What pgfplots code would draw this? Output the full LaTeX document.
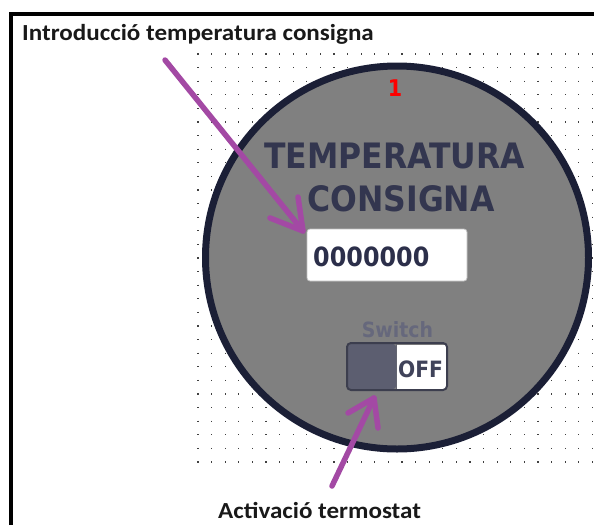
\documentclass[border=0pt]{standalone}
\usepackage{pgfplots}
\pgfplotsset{compat=1.18}
\usepackage{fontspec}
\setmainfont{Liberation Sans}
\newfontfamily\dvs[FakeStretch=0.9]{DejaVu Sans}
\newfontfamily\carl[FakeStretch=1.09]{Carlito}
\definecolor{circfill}{HTML}{808080}
\definecolor{circedge}{HTML}{1B1F36}
\definecolor{titlecol}{HTML}{33364F}
\definecolor{digitcol}{HTML}{2C2F4A}
\definecolor{swlabel}{HTML}{66687C}
\definecolor{swleft}{HTML}{5C5E70}
\definecolor{swedge}{HTML}{3C3E4E}
\definecolor{offcol}{HTML}{40435A}
\definecolor{arrowcol}{HTML}{A349A4}
\begin{document}
\begin{tikzpicture}
\path[use as bounding box] (0,0) rectangle (594pt,525pt);
% dotted background grid
\begin{axis}[
  x=1pt, y=1pt, scale only axis,
  at={(0pt,56.2pt)}, anchor=south west,
  xmin=0, xmax=594, ymin=47.2, ymax=468.8, y dir=reverse,
  axis line style={draw=none},
  xtick={198,211.6,...,593}, xticklabels={}, ytick=\empty,
  major tick length=0pt,
  xmajorgrids,
  major grid style={line width=1.2pt, black!75, dash pattern=on 1.2pt off 12.4pt, dash phase=7.4pt},
]
\addplot[draw=none] coordinates {(0,100)};
\end{axis}
% main content
\begin{axis}[
  x=1pt, y=1pt, scale only axis,
  at={(0pt,0pt)}, anchor=south west,
  xmin=0, xmax=594, ymin=0, ymax=525, y dir=reverse,
  hide axis, clip=false,
]
% frame
\addplot[black, line width=4pt, line join=miter] coordinates {(11,525) (11,13.5) (594,13.5)};
% circle
\draw[fill=circfill, draw=circedge, line width=7pt] (axis cs:397,257.5) circle[radius=191.5];
% red number
\node[anchor=base, text=red, font=\dvs\bfseries\fontsize{23}{26}\selectfont] at (axis cs:395,96) {1};
% title
\node[anchor=base, text=titlecol, font=\dvs\bfseries\fontsize{35}{40}\selectfont] at (axis cs:394.5,168) {TEMPERATURA};
\node[anchor=base, text=titlecol, font=\dvs\bfseries\fontsize{35}{40}\selectfont] at (axis cs:401,211.5) {CONSIGNA};
% input box
\draw[fill=white, draw=black!25, line width=0.8pt, rounded corners=3pt] (axis cs:307,229) rectangle (axis cs:467,281);
\node[anchor=base west, text=digitcol, inner sep=0pt, font=\dvs\bfseries\fontsize{26.5}{30}\selectfont] at (axis cs:313,266.5) {0000000};
% switch
\node[anchor=base, text=swlabel, font=\dvs\bfseries\fontsize{21}{24}\selectfont] at (axis cs:397.5,337.5) {Switch};
\fill[white] (axis cs:396,345) rectangle (axis cs:446,389);
\fill[swleft, rounded corners=3pt] (axis cs:348,344) rectangle (axis cs:396,389);
\draw[swedge, line width=2pt, rounded corners=4pt] (axis cs:347,343) rectangle (axis cs:447,390);
\draw[swedge!80, line width=1pt] (axis cs:396,344) -- (axis cs:396,389);
\node[anchor=base west, text=offcol, inner sep=0pt, font=\dvs\bfseries\fontsize{22.5}{24}\selectfont] at (axis cs:398,377) {OFF};
% arrows
\addplot[arrowcol, line width=5.5pt, line cap=round, line join=round] coordinates {(165,60) (303,231)};
\addplot[arrowcol, line width=5.5pt, line cap=round, line join=round] coordinates {(298,197) (303,231) (270,218)};
\addplot[arrowcol, line width=5.5pt, line cap=round, line join=round] coordinates {(332,486) (374,398)};
\addplot[arrowcol, line width=5.5pt, line cap=round, line join=round] coordinates {(348,413) (374,398) (378,428)};
% labels
\node[anchor=base west, inner sep=0pt, text=black!90, font=\carl\bfseries\fontsize{23}{25}\selectfont] at (axis cs:22,40.5) {Introducció temperatura consigna};
\node[anchor=base west, inner sep=0pt, text=black!90, font=\carl\bfseries\fontsize{23}{25}\selectfont] at (axis cs:218,518) {Activació termostat};
\end{axis}
\end{tikzpicture}
\end{document}
